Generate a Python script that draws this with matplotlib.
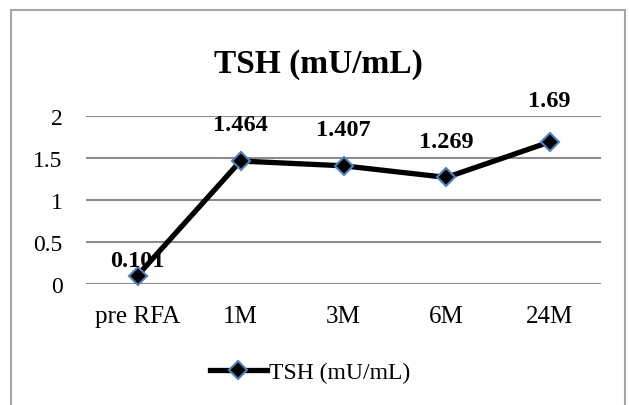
import matplotlib
import matplotlib.pyplot as plt
from matplotlib.patches import Rectangle

matplotlib.use("Agg")

categories = ["pre RFA", "1M", "3M", "6M", "24M"]
tsh = [0.101, 1.464, 1.407, 1.269, 1.69]
label_offsets = [11, 26, 26, 26, 30]  # points above each marker
y_ticks = [0, 0.5, 1, 1.5, 2]
y_tick_labels = ["0", "0.5", "1", "1.5", "2"]
series_name = "TSH (mU/mL)"

plt.rcParams["font.family"] = "Liberation Serif"

fig = plt.figure(figsize=(6.29, 4.06), dpi=100)
ax = fig.add_axes([86 / 629, 121 / 406, 515 / 629, 168 / 406])

x = list(range(len(categories)))
ax.plot(x, tsh, color="black", lw=3.8, marker="D", markersize=9.5,
        markerfacecolor="black", markeredgecolor="#4f81bd", markeredgewidth=1.5,
        label=series_name, clip_on=False, zorder=3)

for xi, v, off in zip(x, tsh, label_offsets):
    ax.annotate(str(v), (xi, v), xytext=(0, off), textcoords="offset points",
                ha="center", va="center", fontsize=17.5, fontweight="bold", zorder=4)

ax.set_xlim(-0.5, 4.5)
ax.set_ylim(0, 2)
ax.set_xticks(x)
ax.set_xticklabels(categories, fontsize=18)
ax.set_yticks(y_ticks)
ax.set_yticklabels(y_tick_labels, fontsize=17)
ax.tick_params(axis="x", length=0, pad=15)
ax.tick_params(axis="y", length=0, pad=17)
ax.grid(axis="y", color="#8c8c8c", lw=1.5)
ax.set_axisbelow(True)
for s in ax.spines.values():
    s.set_visible(False)

fig.text(318 / 629, 1 - 64 / 406, "TSH (mU/mL)", ha="center", va="center",
         fontsize=24, fontweight="bold")

fig.legend(loc="center", bbox_to_anchor=(310 / 629, 1 - 373 / 406), frameon=False,
           fontsize=17, handlelength=2.4, handletextpad=0.1)

fig.add_artist(Rectangle((11 / 629, -0.05), 614 / 629, 1.05 - 11 / 406,
                         transform=fig.transFigure, fill=False,
                         edgecolor="#a6a6a6", lw=1.5))

fig.savefig("out.png", dpi=100)
